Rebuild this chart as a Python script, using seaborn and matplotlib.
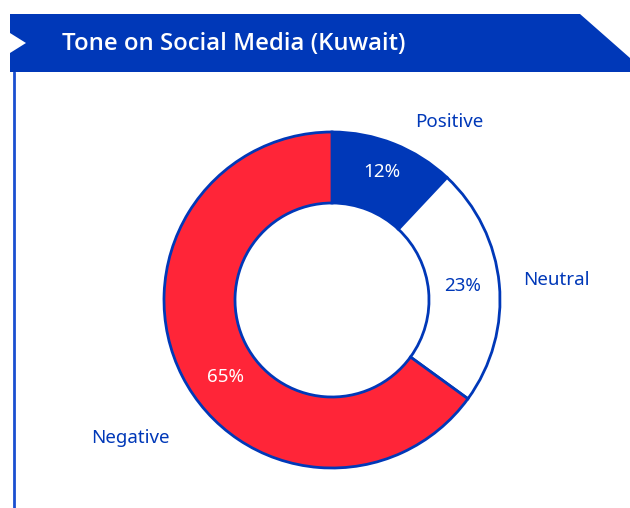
import matplotlib
matplotlib.use("Agg")
import matplotlib.pyplot as plt
import seaborn as sns
from matplotlib.patches import Polygon

sns.set_theme(style="white")
plt.rcParams['font.family'] = ['Open Sans', 'DejaVu Sans']

title = "Tone on Social Media (Kuwait)"
categories = ["Positive", "Neutral", "Negative"]
values = [12, 23, 65]
colors = ["#0038b8", "#ffffff", "#ff2538"]
pct_colors = ["white", "#0038b8", "white"]

BLUE = "#0038b8"
W, H = 630, 508
fig = plt.figure(figsize=(W / 100, H / 100), dpi=100)
ax = fig.add_axes([0, 0, 1, 1])
ax.set_xlim(0, W)
ax.set_ylim(0, H)
ax.axis("off")

def fy(y):
    return H - y

# banner
banner = Polygon([(10, fy(14)), (580, fy(14)), (630, fy(58)), (630, fy(72)),
                  (10, fy(72)), (10, fy(53)), (26, fy(43)), (10, fy(33))],
                 closed=True, facecolor=BLUE, edgecolor="none", zorder=2)
ax.add_patch(banner)
ax.text(62, fy(44), title, color="white", fontsize=17.2, fontweight="semibold",
        va="center", ha="left", zorder=3)
# left vertical line
ax.plot([14, 14], [fy(72), fy(508)], color="#1a4fd0", lw=2, zorder=1)

cx, cy, R, r = 332, 300, 168, 97
wedges, _ = ax.pie(values, colors=colors, startangle=90, counterclock=False,
                   center=(cx, fy(cy)), radius=R,
                   wedgeprops=dict(width=R - r, edgecolor=BLUE, linewidth=2),
                   frame=True)
ax.set_xlim(0, W)
ax.set_ylim(0, H)
ax.set_aspect("auto")
ax.axis("off")

pct_pos = [(382, 172), (463, 286), (225, 377)]
lab_pos = [(449, 122), (556, 280), (130, 438)]
for v, (px, py), c in zip(values, pct_pos, pct_colors):
    ax.text(px, fy(py), f"{v}%", color=c, fontsize=13.5, ha="center", va="center",
            family=["Noto Sans", "DejaVu Sans"])
for lab, (lx, ly) in zip(categories, lab_pos):
    ax.text(lx, fy(ly), lab, color=BLUE, fontsize=13.5, ha="center", va="center",
            family=["Noto Sans", "DejaVu Sans"])

fig.savefig("out.png", dpi=100, facecolor="white")
